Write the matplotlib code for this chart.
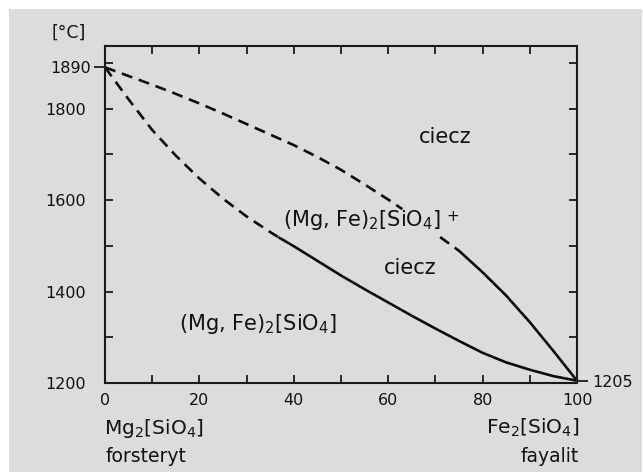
import matplotlib
matplotlib.use("Agg")
import matplotlib.pyplot as plt
from matplotlib.patches import Rectangle

plt.rcParams['font.family'] = ['DejaVu Sans']
plt.rcParams['mathtext.fontset'] = 'dejavusans'
plt.rcParams['mathtext.default'] = 'regular'

# ---- data (composition in % Fe2[SiO4], temperature in °C) ----
liq_x = [0, 5, 10, 15, 20, 25, 30, 35, 40, 45, 50, 55, 60, 63, 67, 71, 75, 80, 85, 90, 95, 100]
liq_t = [1890, 1871, 1852, 1832, 1811, 1789, 1766, 1743, 1720, 1694, 1666, 1634, 1601, 1580,
         1550, 1519, 1489, 1442, 1391, 1333, 1270, 1205]
sol_x = [0, 5, 10, 15, 20, 25, 30, 35, 37, 40, 45, 50, 55, 60, 65, 70, 75, 80, 85, 90, 95, 100]
sol_t = [1890, 1820, 1753, 1697, 1647, 1603, 1564, 1530, 1517, 1499, 1467, 1435, 1405, 1376,
         1347, 1319, 1292, 1266, 1245, 1229, 1215, 1205]

x_ticks_labeled = [0, 20, 40, 60, 80, 100]
x_ticks_minor = [10, 30, 50, 70, 90]
y_ticks = [1200, 1300, 1400, 1500, 1600, 1700, 1800, 1900]
y_tick_labels = ['1200', '', '1400', '', '1600', '', '1800', '']
t_fo = 1890
t_fa = 1205

# segment split indices
liq_dash1_end = liq_x.index(63)
liq_dash2_start = liq_x.index(71)
liq_solid_start = liq_x.index(75)
sol_solid_start = sol_x.index(37)

W, H = 643, 472
fig = plt.figure(figsize=(W / 100, H / 100), dpi=100)
fig.patch.set_facecolor('white')
bg = '#dcdcdc'
fig.add_artist(Rectangle((9 / W, 0), 1 - 10 / W, 1 - 9 / H, transform=fig.transFigure,
                         facecolor=bg, edgecolor='none', zorder=-10))

left, right, top, bottom = 105, 577, 46, 383
ax = fig.add_axes([left / W, 1 - bottom / H, (right - left) / W, (bottom - top) / H])
ax.set_facecolor(bg)
ax.set_xlim(0, 100)
ax.set_ylim(1200, 1200 + (bottom - top) / 0.4575)

for s in ax.spines.values():
    s.set_linewidth(1.5)
    s.set_color('#1a1a1a')

col = '#0d0d0d'
lw = 1.9
dash = (4.2, 2.6)
ax.plot(liq_x[:liq_dash1_end + 1], liq_t[:liq_dash1_end + 1], color=col, lw=lw, dashes=dash,
        clip_on=False)
ax.plot(liq_x[liq_dash2_start:liq_solid_start + 1], liq_t[liq_dash2_start:liq_solid_start + 1],
        color=col, lw=lw, dashes=dash, clip_on=False)
ax.plot(liq_x[liq_solid_start:], liq_t[liq_solid_start:], color=col, lw=lw, clip_on=False,
        solid_joinstyle='round')
ax.plot(sol_x[:sol_solid_start + 1], sol_t[:sol_solid_start + 1], color=col, lw=lw, dashes=dash,
        clip_on=False)
ax.plot(sol_x[sol_solid_start:], sol_t[sol_solid_start:], color=col, lw=lw, clip_on=False,
        solid_joinstyle='round')

fs = 11.5
tc = '#111111'
ax.set_xticks(x_ticks_labeled)
ax.set_xticklabels([str(v) for v in x_ticks_labeled])
ax.set_xticks(x_ticks_minor, minor=True)
ax.tick_params(axis='x', which='both', direction='in', top=True, bottom=True, length=6,
               width=1.3, color='#1a1a1a', labelsize=fs, labelcolor=tc, pad=7)

ax.set_yticks([t_fo])
ax.set_yticklabels([str(t_fo)])
ax.set_yticks(y_ticks, minor=True)
ax.set_yticklabels(y_tick_labels, minor=True)
ax.tick_params(axis='y', which='minor', direction='in', left=True, right=False, length=6,
               width=1.3, color='#1a1a1a', labelsize=fs, labelcolor=tc, pad=14)
ax.tick_params(axis='y', which='major', direction='out', left=True, right=False, length=8,
               width=1.3, color='#1a1a1a', labelsize=fs, labelcolor=tc, pad=2)

ax2 = ax.twinx()
ax2.set_ylim(ax.get_ylim())
ax2.set_yticks([t_fa])
ax2.set_yticklabels([str(t_fa)])
ax2.set_yticks(y_ticks, minor=True)
ax2.tick_params(axis='y', which='minor', direction='in', length=6, width=1.3, color='#1a1a1a',
                labelright=False)
ax2.tick_params(axis='y', which='major', direction='out', length=8, width=1.3, color='#1a1a1a',
                labelsize=fs, labelcolor=tc, pad=3)
for s in ax2.spines.values():
    s.set_visible(False)

fig.text(69 / W, 1 - 33 / H, '[°C]', ha='center', va='center', fontsize=12.5, color=tc)

fig.text(104 / W, 1 - 428 / H, r'Mg$_2$[SiO$_4$]', ha='left', va='center', fontsize=14.5, color=tc)
fig.text(146 / W, 1 - 456 / H, 'forsteryt', ha='center', va='center', fontsize=13.5, color=tc)
fig.text(580 / W, 1 - 428 / H, r'Fe$_2$[SiO$_4$]', ha='right', va='center', fontsize=14.5, color=tc)
fig.text(550 / W, 1 - 456 / H, 'fayalit', ha='center', va='center', fontsize=13.5, color=tc)

lfs = 15
ax.text(72.1, 1738, 'ciecz', ha='center', va='center', fontsize=lfs, color=tc)
ax.text(37.8, 1557, r'(Mg, Fe)$_2$[SiO$_4$]', ha='left', va='center', fontsize=lfs, color=tc)
ax.text(73.6, 1565, '+', ha='center', va='center', fontsize=11, color=tc)
ax.text(64.7, 1451, 'ciecz', ha='center', va='center', fontsize=lfs, color=tc)
ax.text(32.3, 1330, r'(Mg, Fe)$_2$[SiO$_4$]', ha='center', va='center', fontsize=lfs, color=tc)

fig.savefig('out.png', dpi=100, facecolor=fig.get_facecolor())
